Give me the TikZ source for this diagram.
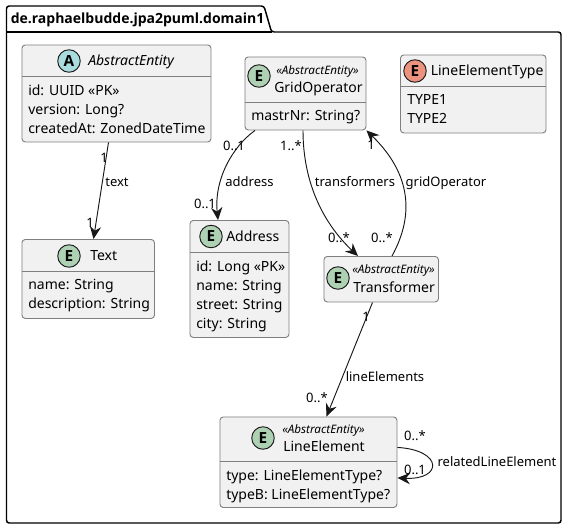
\documentclass[tikz,border=0pt]{standalone}
\usepackage{fontspec}
\setmainfont{Noto Sans}
\newfontfamily\heavy{Open Sans}
\usetikzlibrary{arrows.meta,calc}
\definecolor{boxfill}{HTML}{F1F1F1}
\definecolor{boxline}{HTML}{7F7F7F}
\definecolor{ink}{HTML}{181818}
\definecolor{entgreen}{HTML}{ADD1B2}
\definecolor{absblue}{HTML}{A9DCDF}
\definecolor{enumred}{HTML}{EB937F}
\newdimen\px \px=0.75pt
\tikzset{
 classbox/.style={draw=boxline,fill=boxfill,line width=0.7pt,rounded corners=2.5pt,anchor=north west,inner sep=0pt},
 divider/.style={draw=boxline,line width=0.7pt},
 badge/.style={circle,draw=ink,line width=0.7pt,minimum size=22.5*\px,inner sep=0pt,font=\heavy\fontsize{11.5pt}{12pt}\bfseries},
 txt/.style={anchor=west,inner sep=0pt,text=black,font=\fontsize{10.5pt}{12pt}\selectfont,text height=8.2pt,text depth=2.2pt},
 stereo/.style={anchor=west,inner sep=0pt,text=black,font=\fontsize{8.75pt}{10pt}\itshape,text height=6.5pt,text depth=2pt},
 lbl/.style={inner sep=0pt,text=black,font=\fontsize{9.75pt}{12pt}\selectfont,text height=7.5pt,text depth=2pt},
 conn/.style={draw=ink,line width=0.7pt},
 arrowed/.style={conn,-{Stealth[length=9.5pt,width=8.5pt,inset=3.2pt]}},
}
\begin{document}
\begin{tikzpicture}[x=0.75pt,y=-0.75pt]
\useasboundingbox (0,0) rectangle (568,529);
% package
\path[draw=black,line width=1.1pt,fill=white,rounded corners=2pt] (6.5,32) -- (6.5,6) -- (264,6) -- (271.5,32) -- (561,32) -- (561,523) -- (6.5,523) -- cycle;
\draw[black,line width=1.1pt] (6.5,32) -- (271.5,32);
\node[txt,font=\heavy\fontsize{10.5pt}{12pt}\bfseries] (pkg) at (10.5,19.5) {de.raphaelbudde.jpa2puml.domain1};
% AbstractEntity
\node[classbox,minimum width=189*\px,minimum height=97*\px] (abs) at (21.5,44.5) {};
\draw[divider] (21.5,76) -- (210.5,76);
\node[badge,fill=absblue] (absb) at (69,61) {A};
\node[txt,font=\fontsize{10.5pt}{12pt}\itshape] (abst) at (88,61) {AbstractEntity};
\node[txt] (absa) at (28,91) {id: UUID «PK»};
\node[txt] (absc) at (28,110) {version: Long?};
\node[txt] (absd) at (28,129) {createdAt: ZonedDateTime};
% Text
\node[classbox,minimum width=132.5*\px,minimum height=79*\px] (tex) at (21.5,239) {};
\draw[divider] (21.5,271) -- (154,271);
\node[badge,fill=entgreen] (texb) at (69,256) {E};
\node[txt] (text) at (90,256) {Text};
\node[txt] (texa) at (28,285) {name: String};
\node[txt] (texc) at (28,304) {description: String};
% GridOperator
\node[classbox,minimum height=73*\px,minimum width=121*\px] (grid) at (244.5,56.5) {};
\draw[divider] (244.5,102.5) -- (365.5,102.5);
\node[badge,fill=entgreen] (gridb) at (259,76) {E};
\node[stereo] (grids) at (276,71) {«AbstractEntity»};
\node[txt] (gridt) at (274,88) {GridOperator};
\node[txt] (grida) at (251,116) {mastrNr: String?};
% LineElementType
\node[classbox,minimum width=145.5*\px,minimum height=78*\px] (let) at (400,54.5) {};
\draw[divider] (400,86.5) -- (545.5,86.5);
\node[badge,fill=enumred] (letb) at (415,71) {E};
\node[txt] (lett) at (430.5,71) {LineElementType};
\node[txt] (leta) at (407,100) {TYPE1};
\node[txt] (letc) at (407,119) {TYPE2};
% Address
\node[classbox,minimum width=99*\px,minimum height=117*\px] (addr) at (189.5,220) {};
\draw[divider] (189.5,252.5) -- (288.5,252.5);
\node[badge,fill=entgreen] (addrb) at (211,236.5) {E};
\node[txt] (addrt) at (226,237) {Address};
\node[txt] (addra) at (196,267) {id: Long «PK»};
\node[txt] (addrc) at (196,286) {name: String};
\node[txt] (addrd) at (196,305) {street: String};
\node[txt] (addre) at (196,324) {city: String};
% Transformer
\node[classbox,minimum width=114.5*\px,minimum height=45.5*\px] (tra) at (323.5,256) {};
\node[badge,fill=entgreen] (trab) at (338,278) {E};
\node[stereo] (tras) at (352,270) {«AbstractEntity»};
\node[txt] (trat) at (353,288) {Transformer};
% LineElement
\node[classbox,minimum width=177*\px,minimum height=90.5*\px] (lin) at (219.5,416.5) {};
\draw[divider] (219.5,461.5) -- (396.5,461.5);
\node[badge,fill=entgreen] (linb) at (263,438) {E};
\node[stereo] (lins) at (282,430) {«AbstractEntity»};
\node[txt] (lint) at (283,447) {LineElement};
\node[txt] (lina) at (226,476) {type: LineElementType?};
\node[txt] (linc) at (226,495) {typeB: LineElementType?};
% connectors
\draw[arrowed] ([xshift=87*\px]abs.south west) -- ([xshift=72*\px]tex.north west);
\draw[arrowed] ([xshift=10.5*\px]grid.south west) .. controls (232,147) and (214,180) .. ([xshift=28.5*\px]addr.north west);
\draw[arrowed] ([xshift=58.5*\px]grid.south west) .. controls (303,185) and (325,225) .. ([xshift=34.5*\px]tra.north west);
\draw[arrowed] ([xshift=68.5*\px]tra.north west) .. controls (420,205) and (402,165) .. (grid.south east);
\draw[arrowed] ([xshift=49*\px]tra.south west) -- ([xshift=107*\px]lin.north west);
\draw[arrowed] ([yshift=60.5*\px]lin.south east) .. controls (443,450) and (443,480) .. ([yshift=30*\px]lin.south east);
% labels
\node[lbl] (l1) at (104,159) {1};
\node[lbl] (l2) at (117,183) {text};
\node[lbl] (l3) at (90,224) {1};
\node[lbl] (l4) at (234,147) {0..1};
\node[lbl] (l5) at (249.5,183) {address};
\node[lbl] (l6) at (205,205) {0..1};
\node[lbl] (l7) at (291,147) {1..*};
\node[lbl] (l8) at (355,183) {transformers};
\node[lbl] (l9) at (339,239) {0..*};
\node[lbl] (l10) at (382,239) {0..*};
\node[lbl] (l11) at (371,146) {1};
\node[lbl] (l12) at (446,183) {gridOperator};
\node[lbl] (l13) at (366,318) {1};
\node[lbl] (l14) at (385,378) {lineElements};
\node[lbl] (l15) at (317,399) {0..*};
\node[lbl] (l16) at (415,437) {0..*};
\node[lbl] (l17) at (415,471) {0..1};
\node[lbl] (l18) at (497,463) {relatedLineElement};
\end{tikzpicture}
\end{document}
